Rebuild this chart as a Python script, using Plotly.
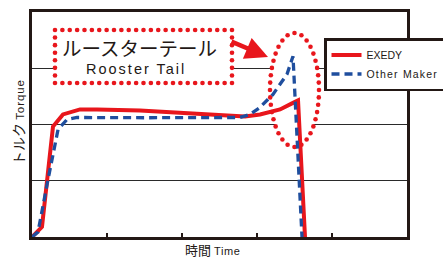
import numpy as np
import plotly.graph_objects as go

# ---------------- data ----------------
exedy_t = [0, 0.133, 0.28, 0.413, 0.64, 0.867, 1.44, 1.973, 2.507, 2.84, 3.04, 3.307, 3.467, 3.547, 3.64]
exedy_v = [0, 0.179, 1.964, 2.179, 2.268, 2.268, 2.25, 2.214, 2.161, 2.143, 2.179, 2.268, 2.375, 2.429, 0]

other_t = [0, 0.08, 0.213, 0.347, 0.467, 0.6, 1.5, 2.773, 2.907, 3.04, 3.213, 3.4, 3.48, 3.6]
other_v = [0, 0.089, 1.018, 1.911, 2.089, 2.125, 2.12, 2.125, 2.179, 2.304, 2.536, 2.893, 3.214, 0]

series_names = ["EXEDY", "Other Maker"]
x_ticks = [1, 2, 3, 4]
y_grid = [1, 2, 3]

# ---------------- layout geometry ----------------
W, H = 443, 258
L, R, T, B = 32, 36, 12, 21
PW, PH = W - L - R, H - T - B
XMAX, YMAX = 5, 4

def dx(px):
    return (px - L) / PW * XMAX

def dy(py):
    return (H - B - py) / PH * YMAX

def ppx(px):
    return (px - L) / PW

def ppy(py):
    return (H - B - py) / PH

RED = "#e8161c"
BLUE = "#1f4e9e"
INK = "#231815"
JP = "Noto Sans CJK JP"
LAT = "Liberation Sans"

fig = go.Figure()

# dotted decorations (rectangle + ellipse), computed along their outlines
def rect_dots(x0, y0, x1, y1, step=7.3):
    pts = []
    corners = [(x0, y0), (x1, y0), (x1, y1), (x0, y1), (x0, y0)]
    for (ax, ay), (bx, by) in zip(corners[:-1], corners[1:]):
        n = max(1, int(round(np.hypot(bx - ax, by - ay) / step)))
        for k in range(n):
            pts.append((ax + (bx - ax) * k / n, ay + (by - ay) * k / n))
    return pts

def ellipse_dots(cx, cy, rx, ry, step=7.3):
    th = np.linspace(0, 2 * np.pi, 2000)
    xs, ys = cx + rx * np.cos(th), cy + ry * np.sin(th)
    seg = np.hypot(np.diff(xs), np.diff(ys))
    s = np.concatenate([[0], np.cumsum(seg)])
    n = int(round(s[-1] / step))
    targets = np.linspace(0, s[-1], n, endpoint=False)
    return list(zip(np.interp(targets, s, xs), np.interp(targets, s, ys)))

RX0, RY0, RX1, RY1 = 55, 30, 232, 83
ECX, ECY, ERX, ERY = 294.5, 90, 24.5, 57

fig.add_shape(type="rect", x0=dx(RX0), x1=dx(RX1), y0=dy(RY1), y1=dy(RY0),
              fillcolor="white", line_width=0, layer="between")
fig.add_shape(type="circle", x0=dx(ECX - ERX), x1=dx(ECX + ERX), y0=dy(ECY + ERY), y1=dy(ECY - ERY),
              fillcolor="white", line_width=0, layer="between")

for pts in (rect_dots(RX0, RY0, RX1, RY1), ellipse_dots(ECX, ECY, ERX, ERY)):
    fig.add_trace(go.Scatter(
        x=[dx(p[0]) for p in pts], y=[dy(p[1]) for p in pts], mode="markers",
        marker=dict(color=RED, size=4.6, line_width=0), showlegend=False,
        hoverinfo="skip", cliponaxis=False))

fig.add_trace(go.Scatter(x=exedy_t, y=exedy_v, mode="lines", name=series_names[0],
                         line=dict(color=RED, width=4)))
fig.add_trace(go.Scatter(x=other_t, y=other_v, mode="lines",
                         name='<span style="letter-spacing:1.2px">' + series_names[1] + '</span>',
                         line=dict(color=BLUE, width=3.3, dash="8px,5px")))

fig.update_layout(
    width=W, height=H,
    margin=dict(l=L, r=R, t=T, b=B, autoexpand=False),
    paper_bgcolor="white", plot_bgcolor="white",
    showlegend=True,
    legend=dict(x=ppx(324), y=ppy(38), xanchor="left", yanchor="top",
                bgcolor="white", bordercolor=INK, borderwidth=2.5,
                font=dict(family=LAT, size=10.5, color=INK),
                tracegroupgap=0, itemwidth=30),
    xaxis=dict(range=[0, XMAX], showgrid=False, zeroline=False, showline=True,
               linecolor=INK, linewidth=2.5, mirror=True, ticks="inside",
               tickvals=x_ticks, ticklen=4, tickwidth=1.5, tickcolor=INK,
               showticklabels=False, fixedrange=True),
    yaxis=dict(range=[0, YMAX], showgrid=True, gridcolor="#2a2a2a", gridwidth=1.4,
               tickvals=y_grid, zeroline=False, showline=True, linecolor=INK,
               linewidth=2.5, mirror=True, ticks="", showticklabels=False, fixedrange=True),
)

# texts
def note(px, py, text, size, family, **kw):
    fig.add_annotation(x=ppx(px), y=ppy(py), xref="paper", yref="paper", showarrow=False,
                       xanchor="center", yanchor="middle", text=text,
                       font=dict(family=family, size=size, color=INK), **kw)

note(139.5, 47, "ルースターテール", 19.5, JP)
note(136, 69, '<span style="letter-spacing:2px">Rooster Tail</span>', 14.5, LAT)
note(213, 250, '<span style="font-family:Noto Sans CJK JP;font-size:13px">時間</span> '
               '<span style="letter-spacing:0.6px">Time</span>', 11, LAT)
note(18, 122, '<span style="font-family:Noto Sans CJK JP;font-size:14px">トルク</span> '
              '<span style="letter-spacing:0.9px">Torque</span>', 11.5, LAT, textangle=-90)

# red arrow
fig.add_annotation(x=dx(268), y=dy(57), xref="x", yref="y", ax=-38, ay=-16,
                   showarrow=True, arrowhead=2, arrowsize=1, arrowwidth=4.5,
                   arrowcolor=RED, text="", standoff=0)

fig.write_html("out.html", config={"displayModeBar": False},
               post_script="document.body.style.margin='0px';")
